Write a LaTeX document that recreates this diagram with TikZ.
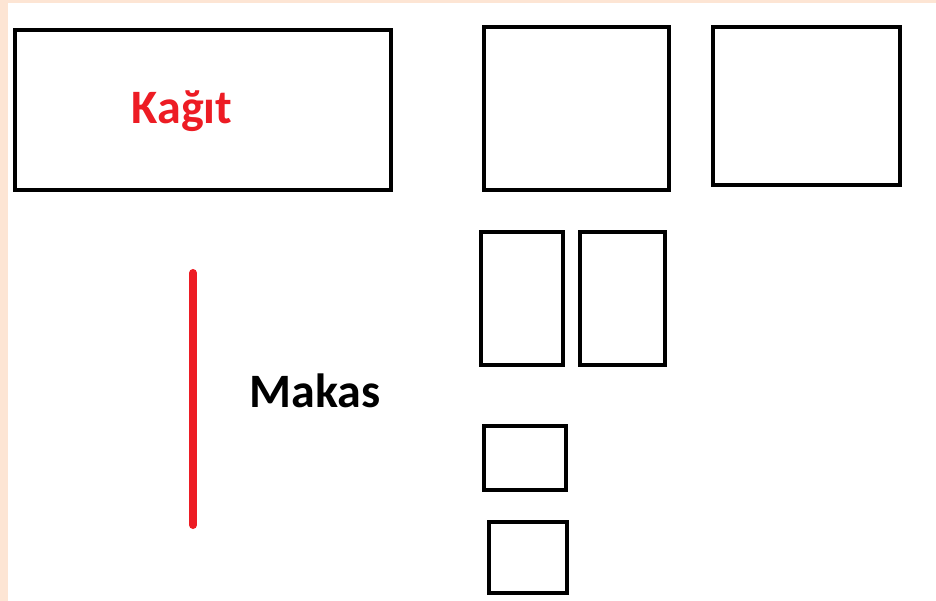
\documentclass[tikz,border=0pt]{standalone}
\usepackage{fontspec}
\setmainfont{Carlito}
\definecolor{paintred}{RGB}{237,28,36}
\definecolor{peach}{RGB}{253,229,212}

\begin{document}
\begin{tikzpicture}[x=1pt, y=-1pt,
  piece/.style={draw, line width=4pt, inner sep=0pt, outer sep=0pt, anchor=north west},
  lbl/.style={font=\fontsize{48}{56}\selectfont\bfseries}]
% canvas with the peach margins
\fill[white] (0,0) rectangle (936,601);
\fill[peach] (0,0) rectangle (8,601);
\fill[peach] (0,0) rectangle (936,3);
\useasboundingbox (0,0) rectangle (936,601);
% the paper and its cut pieces
\node[piece, minimum width=376pt, minimum height=160pt] (paper) at (15,30) {};
\node[piece, minimum width=185pt, minimum height=163pt] (half1) at (484,27) {};
\node[piece, minimum width=187pt, minimum height=158pt] (half2) at (713,27) {};
\node[piece, minimum width=82pt, minimum height=133pt] (quart1) at (481,232) {};
\node[piece, minimum width=85pt, minimum height=133pt] (quart2) at (580,232) {};
\node[piece, minimum width=82pt, minimum height=64pt] (eighth1) at (484,426) {};
\node[piece, minimum width=78pt, minimum height=71pt] (eighth2) at (489,522) {};
\node[lbl, text=paintred] (paperlbl) at (182,111) {Kağıt};
% the scissors
\coordinate (cuttop) at (193,273);
\coordinate (cutbot) at (193,525);
\draw[paintred, line width=8pt, line cap=round] (cuttop) -- (cutbot);
\node[lbl] (scissors) at (315,391) {Makas};
\end{tikzpicture}
\end{document}
